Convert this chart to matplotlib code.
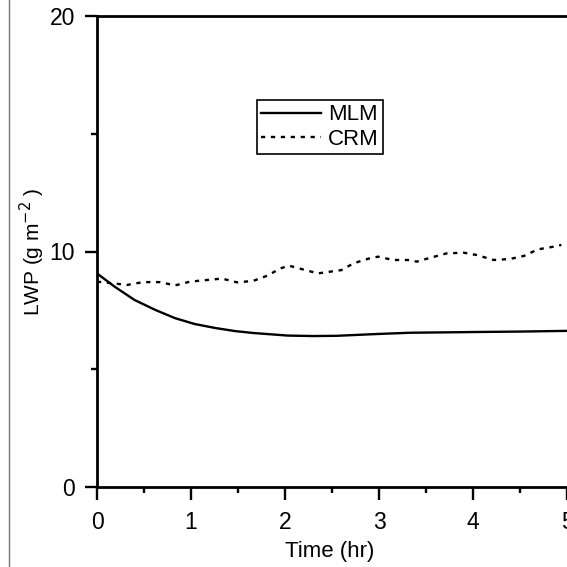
import numpy as np
import matplotlib
matplotlib.use("Agg")
from matplotlib import pyplot as plt
from matplotlib.lines import Line2D
from matplotlib.ticker import MultipleLocator

plt.rcParams['font.family'] = ['Liberation Sans', 'DejaVu Sans']

# Values
mlm_t = [0.0, 0.19, 0.4, 0.62, 0.83, 1.04, 1.26, 1.47, 1.66, 2.03, 2.3, 2.55, 3.0, 3.33, 4.0, 4.5, 5.0]
mlm_lwp = [9.07, 8.5, 7.94, 7.52, 7.17, 6.92, 6.75, 6.62, 6.54, 6.43, 6.41, 6.42, 6.5, 6.55, 6.58, 6.6, 6.63]

crm_t = [0.0, 0.32, 0.49, 0.67, 0.83, 0.99, 1.17, 1.33, 1.49, 1.66, 1.81, 1.95, 2.04, 2.19, 2.35,
         2.6, 2.73, 2.9, 2.99, 3.15, 3.31, 3.4, 3.56, 3.72, 3.9, 4.04, 4.22, 4.39, 4.54, 4.69, 4.85, 4.94]
crm_lwp = [8.72, 8.58, 8.70, 8.70, 8.56, 8.72, 8.79, 8.85, 8.69, 8.75, 8.97, 9.28, 9.40, 9.24, 9.07,
           9.21, 9.50, 9.71, 9.78, 9.64, 9.64, 9.57, 9.75, 9.92, 9.95, 9.85, 9.64, 9.68, 9.81, 10.09, 10.2, 10.28]

x_ticks = [0, 1, 2, 3, 4, 5]
y_ticks = [0, 10, 20]

fig = plt.figure(figsize=(5.67, 5.67), dpi=100)
# axes run past the right edge, as in the cropped scan
ax = fig.add_axes([97 / 567, 80 / 567, 564 / 567, 471 / 567])

ax.plot(mlm_t, mlm_lwp, color='black', lw=1.7, label='MLM')
ax.plot(crm_t, crm_lwp, color='black', lw=1.7, linestyle=(0, (1.8, 2.4)), label='CRM')

ax.set_xlim(0, 6)
ax.set_ylim(0, 20)
ax.set_xticks(x_ticks)
ax.set_yticks(y_ticks)
ax.xaxis.set_minor_locator(MultipleLocator(0.5))
ax.yaxis.set_minor_locator(MultipleLocator(5))
ax.tick_params(which='major', direction='out', length=9, width=1.7, labelsize=16.5, pad=7)
ax.tick_params(which='minor', direction='out', length=4.5, width=1.7)
ax.tick_params(axis='x', which='major', pad=8)
for s in ['left', 'bottom', 'top']:
    ax.spines[s].set_linewidth(2.0)
ax.spines['right'].set_visible(False)

fig.text(32 / 567, 1 - 252 / 567, 'LWP (g m$^{-2}$ )', rotation=90, ha='center', va='center', fontsize=15)
fig.text(330 / 567, 1 - 551 / 567, 'Time (hr)', ha='center', va='center', fontsize=16)

leg = ax.legend(loc='upper left', bbox_to_anchor=(257 / 567, 1 - 100 / 567), bbox_transform=fig.transFigure,
                fancybox=False, edgecolor='black', framealpha=1, fontsize=16, handlelength=2.7,
                handletextpad=0.3, labelspacing=0.15, borderpad=0.2, borderaxespad=0)
leg.get_frame().set_linewidth(1.2)

# page edge of the scan
fig.add_artist(Line2D([9 / 567, 9 / 567], [0, 1], color='#777777', lw=1.0, transform=fig.transFigure))

fig.savefig('out.png', dpi=100)
